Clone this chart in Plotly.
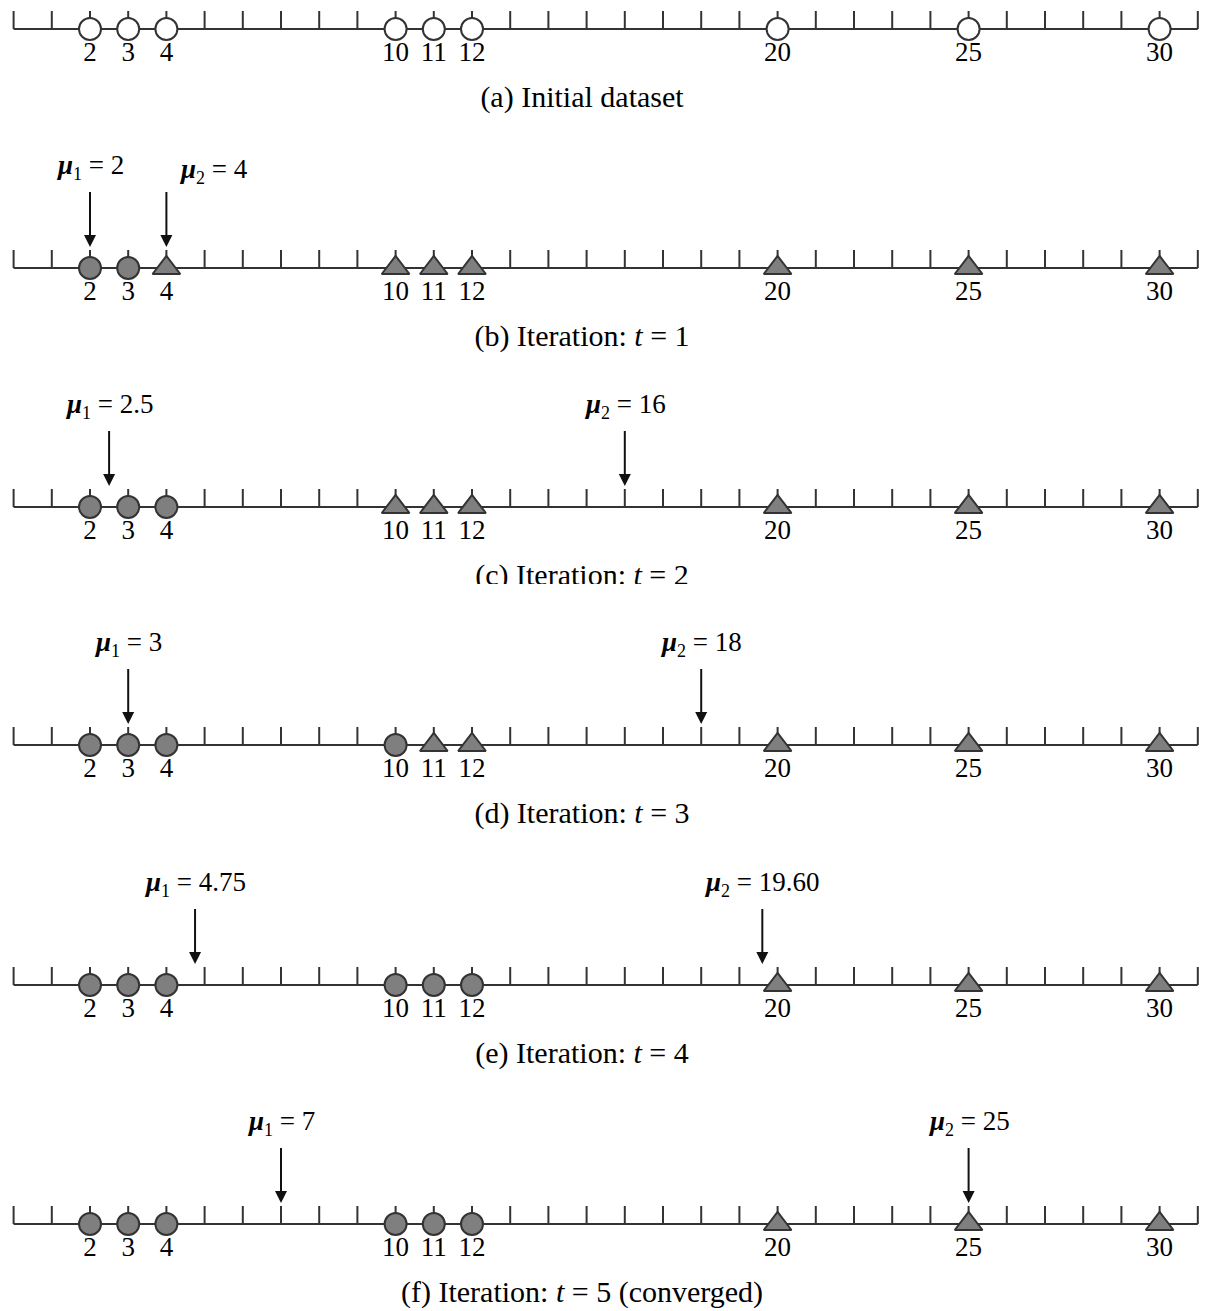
import plotly.graph_objects as go

# ---------------- data ----------------
points = [2, 3, 4, 10, 11, 12, 20, 25, 30]
tick_values = list(range(0, 32))
point_labels = ["2", "3", "4", "10", "11", "12", "20", "25", "30"]

# cluster assignment per panel (0 = initial/unassigned, 1 = circle, 2 = triangle)
assign_a = [0, 0, 0, 0, 0, 0, 0, 0, 0]
assign_b = [1, 1, 2, 2, 2, 2, 2, 2, 2]
assign_c = [1, 1, 1, 2, 2, 2, 2, 2, 2]
assign_d = [1, 1, 1, 1, 2, 2, 2, 2, 2]
assign_e = [1, 1, 1, 1, 1, 1, 2, 2, 2]
assign_f = [1, 1, 1, 1, 1, 1, 2, 2, 2]

mu1_values = [None, 2, 2.5, 3, 4.75, 7]
mu1_labels = [None, "2", "2.5", "3", "4.75", "7"]
mu2_values = [None, 4, 16, 18, 19.60, 25]
mu2_labels = [None, "4", "16", "18", "19.60", "25"]
mu_indices = ["1", "2"]

captions = [
    "(a) Initial dataset",
    "(b) Iteration: <i>t</i> = 1",
    "(c) Iteration: <i>t</i> = 2",
    "(d) Iteration: <i>t</i> = 3",
    "(e) Iteration: <i>t</i> = 4",
    "(f) Iteration: <i>t</i> = 5 (converged)",
]

# ---------------- layout constants ----------------
W, H = 1215, 1311
PX0, PXU = 13.6, 38.2            # pixel of x=0, pixels per unit
baselines = [29, 268, 507, 745, 985, 1224]
TICK_LEN = 18
LABEL_OFF = 25
CAPTION_OFF = 70
MU_LABEL_OFF = 101
ARROW_TAIL = 76
ARROW_TIP = 21
FONT = "Liberation Serif"
LINE_C = "#333333"
FILL_C = "#7f7f7f"
CAPTION_X = (582 - PX0) / PXU

assigns = [assign_a, assign_b, assign_c, assign_d, assign_e, assign_f]

fig = go.Figure()
for i, base in enumerate(baselines):
    # axis line
    fig.add_trace(go.Scatter(x=[tick_values[0], tick_values[-1]], y=[base, base],
                             mode="lines", line=dict(color=LINE_C, width=2),
                             hoverinfo="skip"))
    # ticks
    tx, ty = [], []
    for t in tick_values:
        tx += [t, t, None]
        ty += [base, base - TICK_LEN, None]
    fig.add_trace(go.Scatter(x=tx, y=ty, mode="lines",
                             line=dict(color=LINE_C, width=2), hoverinfo="skip"))
    # markers
    a = assigns[i]
    for grp in sorted(set(a)):
        xs = [p for p, g in zip(points, a) if g == grp]
        if grp == 0:
            sym, fill, size = "circle", "white", 22
        elif grp == 1:
            sym, fill, size = "circle", FILL_C, 22
        else:
            sym, fill, size = "triangle-up", FILL_C, 24
        fig.add_trace(go.Scatter(x=xs, y=[base] * len(xs), mode="markers",
                                 marker=dict(symbol=sym, size=size, color=fill,
                                             line=dict(color=LINE_C, width=2)),
                                 hoverinfo="skip"))
    # tick labels
    fig.add_trace(go.Scatter(x=points, y=[base + LABEL_OFF] * len(points),
                             mode="text", text=point_labels,
                             textposition="middle center",
                             textfont=dict(family=FONT, size=27, color="black"),
                             hoverinfo="skip"))
    # caption
    fig.add_trace(go.Scatter(x=[CAPTION_X], y=[base + CAPTION_OFF], mode="text",
                             text=[captions[i]], textposition="middle center",
                             textfont=dict(family=FONT, size=30, color="black"),
                             hoverinfo="skip"))
    # centroid arrows and labels
    if mu1_values[i] is not None:
        for k, (mv, ml) in enumerate([(mu1_values[i], mu1_labels[i]),
                                      (mu2_values[i], mu2_labels[i])]):
            fig.add_trace(go.Scatter(
                x=[mv, mv], y=[base - ARROW_TAIL, base - ARROW_TIP - 4],
                mode="lines", line=dict(color="#111111", width=2),
                hoverinfo="skip"))
            fig.add_trace(go.Scatter(
                x=[mv], y=[base - ARROW_TIP], mode="markers",
                marker=dict(symbol="arrow-down", size=12, color="#111111",
                            line=dict(width=0)),
                hoverinfo="skip"))
            xshift, yshift = 0, 0
            if i == 1 and k == 1:
                xshift, yshift = 47, -4
            label = ('<span style="font-weight:bold;font-style:italic">μ</span>'
                     '<span style="font-size:18px;baseline-shift:-6px">%s</span>'
                     ' = %s' % (mu_indices[k], ml))
            fig.add_annotation(x=mv, y=base - MU_LABEL_OFF, xref="x", yref="y",
                               text=label,
                               showarrow=False, xshift=xshift, yshift=yshift,
                               font=dict(family=FONT, size=27, color="black"))

# caption (c) is clipped at the bottom in the reference
fig.add_shape(type="rect", xref="paper", yref="y", x0=0.3, x1=0.7,
              y0=baselines[2] + 77, y1=baselines[2] + 98,
              fillcolor="white", line=dict(width=0), layer="above")

fig.update_layout(
    width=W, height=H, margin=dict(l=0, r=0, t=0, b=0),
    paper_bgcolor="white", plot_bgcolor="white", showlegend=False,
    xaxis=dict(range=[-PX0 / PXU, (W - PX0) / PXU], visible=False, fixedrange=True),
    yaxis=dict(range=[H, 0], visible=False, fixedrange=True),
)

fig.write_html("out.html")
